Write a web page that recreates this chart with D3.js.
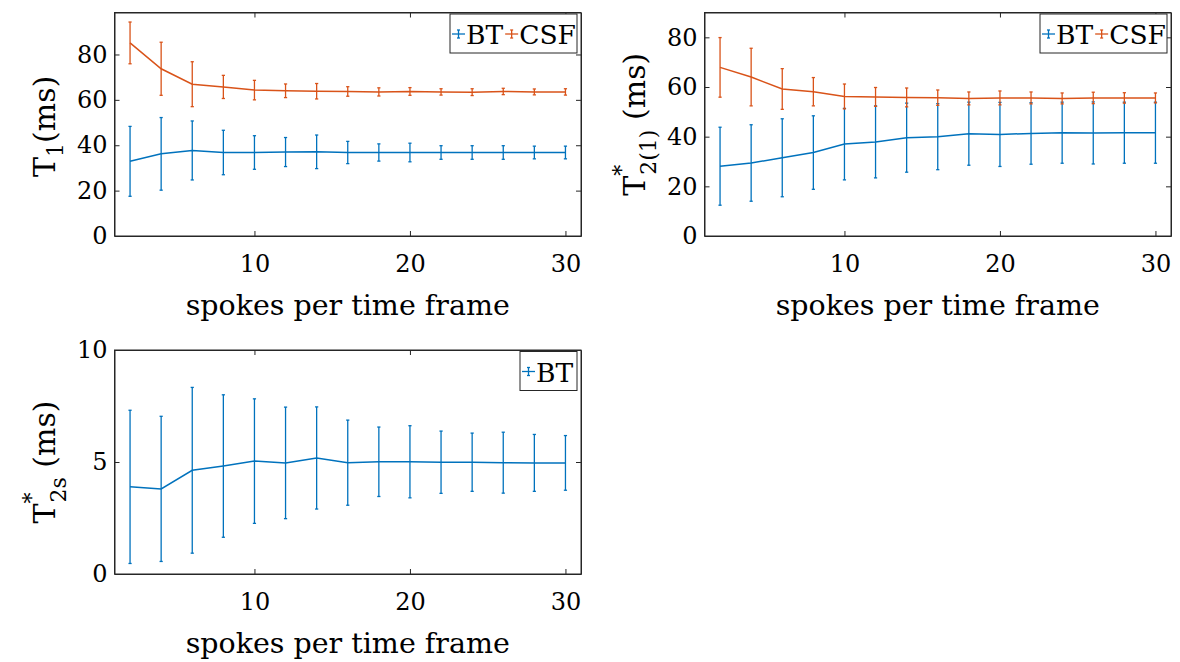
<!DOCTYPE html>
<html>
<head>
<meta charset="utf-8">
<script src="https://cdn.jsdelivr.net/npm/d3@7"></script>
<style>
  html, body { margin: 0; padding: 0; background: #fff; }
  svg text { font-family: "DejaVu Serif", serif; fill: #000; }
</style>
</head>
<body>
<svg id="fig" width="1180" height="662"></svg>
<script>
// spokes per time frame
const spokes = [2, 4, 6, 8, 10, 12, 14, 16, 18, 20, 22, 24, 26, 28, 30];

// T1 (ms)
const t1BT      = [32.9, 36.2, 37.7, 36.8, 36.8, 37.0, 37.1, 36.8, 36.8, 36.8, 36.8, 36.8, 36.8, 36.8, 36.8];
const t1BTErr   = [15.4, 16.0, 13.0, 9.8, 7.4, 6.4, 7.4, 4.9, 3.8, 4.1, 3.0, 3.0, 3.0, 2.8, 2.8];
const t1CSF     = [85.1, 73.7, 66.9, 65.7, 64.3, 64.0, 63.8, 63.7, 63.5, 63.7, 63.5, 63.4, 63.7, 63.5, 63.5];
const t1CSFErr  = [9.2, 11.7, 9.9, 5.1, 4.3, 3.0, 3.4, 2.1, 1.8, 1.7, 1.4, 1.5, 1.4, 1.3, 1.4];

// T2*(1) (ms)
const t2lBT     = [28.1, 29.4, 31.5, 33.6, 37.0, 37.9, 39.6, 40.0, 41.2, 40.9, 41.3, 41.6, 41.5, 41.6, 41.6];
const t2lBTErr  = [15.7, 15.4, 15.7, 14.8, 14.4, 14.5, 13.9, 13.3, 12.7, 12.9, 12.4, 12.3, 12.5, 12.3, 12.3];
const t2lCSF    = [67.9, 64.0, 59.2, 58.1, 56.2, 56.0, 55.8, 55.7, 55.4, 55.6, 55.6, 55.4, 55.6, 55.6, 55.6];
const t2lCSFErr = [12.0, 11.6, 8.2, 5.7, 5.0, 3.8, 3.8, 3.1, 2.6, 2.8, 2.4, 2.2, 2.3, 2.1, 2.0];

// T2*s (ms)
const t2sBT     = [3.89, 3.80, 4.63, 4.82, 5.04, 4.96, 5.18, 4.97, 5.01, 5.01, 4.99, 4.99, 4.97, 4.96, 4.96];
const t2sBTErr  = [3.42, 3.24, 3.70, 3.18, 2.78, 2.49, 2.28, 1.90, 1.55, 1.61, 1.39, 1.30, 1.36, 1.27, 1.22];

const xTicks = [10, 20, 30];
const yTicksA = [0, 20, 40, 60, 80];
const yTicksB = [0, 5, 10];

const BLUE = "#0072BD";
const ORANGE = "#D95319";
const AXIS = "#262626";
const FONT = '"DejaVu Serif", serif';

const svg = d3.select("#fig");

function makeSeries(vals, errs) {
  return spokes.map((s, i) => ({ x: s, y: vals[i], e: errs[i] }));
}

function panel(opt) {
  const { left, top, width, height, yDomain, yTicks, series, legend, ylabel } = opt;
  const g = svg.append("g").attr("transform", `translate(${left},${top})`);
  const x = d3.scaleLinear().domain([1, 31]).range([0, width]);
  const y = d3.scaleLinear().domain(yDomain).range([height, 0]);

  // series: error bars then line
  series.forEach(s => {
    const sg = g.append("g").attr("stroke", s.color).attr("fill", "none").attr("stroke-width", 1.3);
    const bars = sg.selectAll("g.eb").data(s.data).join("g").attr("class", "eb");
    bars.append("line")
      .attr("x1", d => x(d.x)).attr("x2", d => x(d.x))
      .attr("y1", d => y(d.y - d.e)).attr("y2", d => y(d.y + d.e));
    bars.append("line")
      .attr("x1", d => x(d.x) - 1.6).attr("x2", d => x(d.x) + 1.6)
      .attr("y1", d => y(d.y + d.e)).attr("y2", d => y(d.y + d.e));
    bars.append("line")
      .attr("x1", d => x(d.x) - 1.6).attr("x2", d => x(d.x) + 1.6)
      .attr("y1", d => y(d.y - d.e)).attr("y2", d => y(d.y - d.e));
    sg.append("path").datum(s.data)
      .attr("stroke-width", 1.5)
      .attr("d", d3.line().x(d => x(d.x)).y(d => y(d.y)));
  });

  // axes (ticks inward, box around)
  const ax = g.append("g").attr("transform", `translate(0,${height})`)
    .call(d3.axisBottom(x).tickValues(xTicks).tickSizeInner(-5).tickSizeOuter(0).tickPadding(19));
  const axTop = g.append("g")
    .call(d3.axisTop(x).tickValues(xTicks).tickSizeInner(-5).tickSizeOuter(0).tickFormat(""));
  const ay = g.append("g")
    .call(d3.axisLeft(y).tickValues(yTicks).tickSizeInner(-5).tickSizeOuter(0).tickPadding(7));
  const ayR = g.append("g").attr("transform", `translate(${width},0)`)
    .call(d3.axisRight(y).tickValues(yTicks).tickSizeInner(-5).tickSizeOuter(0).tickFormat(""));
  [ax, axTop, ay, ayR].forEach(a => {
    a.attr("font-family", FONT);
    a.selectAll("path.domain").attr("stroke", AXIS).attr("stroke-width", 1);
    a.selectAll(".tick line").attr("stroke", AXIS).attr("stroke-width", 1);
    a.selectAll(".tick text").attr("font-size", 24).attr("fill", "#1a1a1a")
      .style("font-family", FONT);
  });
  ax.selectAll(".tick text").attr("dy", "0.71em");
  g.append("rect").attr("width", width).attr("height", height)
    .attr("fill", "none").attr("stroke", AXIS).attr("stroke-width", 1);

  // x label
  g.append("text").attr("x", width / 2).attr("y", height + 79)
    .attr("text-anchor", "middle").attr("font-size", 28.5)
    .text("spokes per time frame");

  // y label (rotated, with sub/superscripts)
  const yl = g.append("text")
    .attr("transform", `translate(${ylabel.dx},${height / 2 + ylabel.dy}) rotate(-90)`)
    .attr("text-anchor", "middle").attr("font-size", 30);
  ylabel.parts.forEach(p => {
    const t = yl.append("tspan").text(p.t);
    if (p.dx) t.attr("dx", p.dx);
    if (p.dy) t.attr("dy", p.dy);
    if (p.size) t.attr("font-size", p.size);
  });

  // legend
  const lg = g.append("g").attr("transform", `translate(${width - legend.w - 4},1.5)`);
  lg.append("rect").attr("width", legend.w).attr("height", 39)
    .attr("fill", "#fff").attr("stroke", AXIS).attr("stroke-width", 1);
  let cx = 2;
  legend.items.forEach(it => {
    const ig = lg.append("g").attr("stroke", it.color).attr("stroke-width", 1.3);
    ig.append("line").attr("x1", cx).attr("x2", cx + 13).attr("y1", 20).attr("y2", 20);
    ig.append("line").attr("x1", cx + 6.5).attr("x2", cx + 6.5).attr("y1", 16).attr("y2", 24);
    ig.append("line").attr("x1", cx + 5).attr("x2", cx + 8).attr("y1", 16).attr("y2", 16);
    ig.append("line").attr("x1", cx + 5).attr("x2", cx + 8).attr("y1", 24).attr("y2", 24);
    const tx = lg.append("text").attr("x", cx + 14).attr("y", 30)
      .attr("font-size", 26.5).text(it.label);
    cx += 14 + tx.node().getComputedTextLength() + 2;
  });
}

// Panel 1: T1
panel({
  left: 114.5, top: 12.5, width: 466.5, height: 223.5,
  yDomain: [0, 98.5], yTicks: yTicksA,
  series: [
    { color: BLUE, data: makeSeries(t1BT, t1BTErr) },
    { color: ORANGE, data: makeSeries(t1CSF, t1CSFErr) }
  ],
  legend: { w: 127, items: [{ color: BLUE, label: "BT" }, { color: ORANGE, label: "CSF" }] },
  ylabel: { dx: -60, dy: 2, parts: [{ t: "T" }, { t: "1", dy: 8, size: 22 }, { t: "(ms)", dy: -8 }] }
});

// Panel 2: T2*(1)
panel({
  left: 704.5, top: 12.5, width: 466.5, height: 223.5,
  yDomain: [0, 90], yTicks: yTicksA,
  series: [
    { color: BLUE, data: makeSeries(t2lBT, t2lBTErr) },
    { color: ORANGE, data: makeSeries(t2lCSF, t2lCSFErr) }
  ],
  legend: { w: 127, items: [{ color: BLUE, label: "BT" }, { color: ORANGE, label: "CSF" }] },
  ylabel: { dx: -60, dy: 0, parts: [{ t: "T" }, { t: "*", dy: -16, size: 22 }, { t: "2(1)", dx: -10, dy: 27, size: 22 }, { t: " (ms)", dy: -11 }] }
});

// Panel 3: T2*s
panel({
  left: 114.5, top: 350, width: 466.5, height: 224,
  yDomain: [0, 10], yTicks: yTicksB,
  series: [
    { color: BLUE, data: makeSeries(t2sBT, t2sBTErr) }
  ],
  legend: { w: 57, items: [{ color: BLUE, label: "BT" }] },
  ylabel: { dx: -60, dy: 0, parts: [{ t: "T" }, { t: "*", dy: -16, size: 22 }, { t: "2s", dx: -10, dy: 27, size: 22 }, { t: " (ms)", dy: -11 }] }
});
</script>
</body>
</html>
